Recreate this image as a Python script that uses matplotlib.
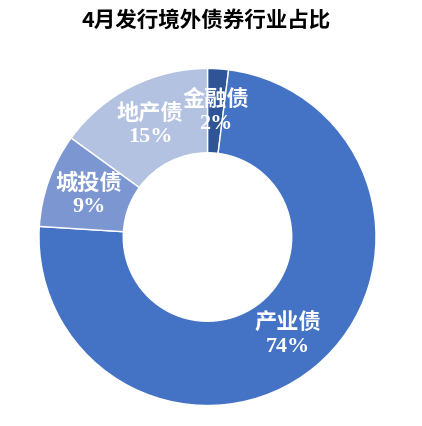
import matplotlib
matplotlib.use("Agg")
import matplotlib.pyplot as plt
import numpy as np

# share of bonds issued abroad by sector
names = ["金融债", "产业债", "城投债", "地产债"]
shares = [2, 74, 9, 15]
colors = ["#2F5597", "#4472C4", "#7C96D2", "#B4C2E2"]

W, H = 422, 427
fig = plt.figure(figsize=(W / 100, H / 100), dpi=100)

cx, cy, r = 207.5, 238, 168.5
ax = fig.add_axes([(cx - r) / W, (H - cy - r) / H, 2 * r / W, 2 * r / H])

wedges, _ = ax.pie(shares, colors=colors, startangle=90, counterclock=False,
                   radius=1.0,
                   wedgeprops=dict(width=0.5, edgecolor="white", linewidth=1))
ax.set_xlim(-1, 1)
ax.set_ylim(-1, 1)
ax.set_aspect("equal")

lab_font = ["Liberation Serif", "Noto Sans CJK SC"]
for w, name, val in zip(wedges, names, shares):
    ang = np.deg2rad((w.theta1 + w.theta2) / 2)
    x, y = 0.75 * np.cos(ang), 0.75 * np.sin(ang)
    ax.text(x, y, "%s\n%d%%" % (name, val), ha="center", va="center",
            color="white", fontsize=16, fontweight="bold", family=lab_font,
            linespacing=1.15)

fig.text(206 / W, 1 - 20 / H, "4月发行境外债券行业占比", ha="center", va="center",
         fontsize=15.5, fontweight="bold", family=["Noto Sans CJK SC", "DejaVu Sans"])

fig.savefig("out.png", dpi=100)
